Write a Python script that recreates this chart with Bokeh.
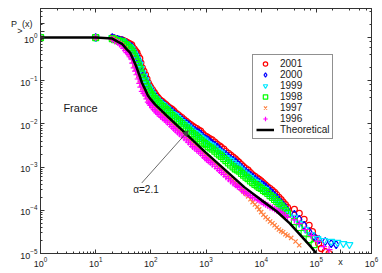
from bokeh.plotting import figure
from bokeh.models import (LogAxis, LogTicker, FixedTicker, CustomJSTickFormatter, Label,
                          Arrow, NormalHead, Legend, LegendItem, Range1d)
from bokeh.embed import file_html
from bokeh.resources import INLINE

# ---------------- data ----------------
X_HEAD = [1, 10]
Y_HEAD = [1.0, 1.0]
X_BODY = [20, 25, 30, 35, 40, 45, 50, 56, 63, 70, 80, 90, 100, 115, 130, 150, 175, 200,
          240, 280, 330, 400, 480, 570, 680, 800, 950, 1100, 1300, 1600, 1900, 2300,
          2800, 3400, 4000, 4800, 5800, 7000, 8500, 10000, 12000, 14500, 17500, 21000,
          25000, 30000]
X_HALF = [22, 27, 32, 37, 42, 47, 53, 59, 66, 75, 85, 95, 107, 122, 140, 162, 187, 220,
          260, 305, 365, 440, 525, 625, 740, 870, 1020, 1200, 1450, 1750, 2100, 2550,
          3100, 3700, 4400, 5300, 6400, 7700, 9200, 11000, 13200, 16000, 19200, 23000,
          27500]

# 2001
y2001 = [1.0, 0.91, 0.89, 0.81, 0.74, 0.68, 0.54, 0.45, 0.33, 0.20, 0.138, 0.089, 0.071,
         0.054, 0.043, 0.035, 0.030, 0.026, 0.022, 0.018, 0.0155, 0.0126, 0.0105, 0.0089,
         0.0078, 0.0068, 0.0054, 0.0048, 0.0043, 0.0034, 0.0029, 0.0023, 0.0019, 0.00155,
         0.00129, 0.00103, 0.00085, 0.00066, 0.00056, 0.00048, 0.00039, 0.00032, 0.00026,
         0.0002, 0.000155, 0.000117]
h2001 = [0.955, 0.90, 0.85, 0.78, 0.71, 0.60, 0.49, 0.385, 0.26, 0.168, 0.111, 0.079,
         0.062, 0.048, 0.039, 0.033, 0.028, 0.0237, 0.020, 0.0168, 0.014, 0.0115, 0.0097,
         0.0083, 0.0072, 0.006, 0.0051, 0.0045, 0.0038, 0.0031, 0.0026, 0.0021, 0.0017,
         0.0014, 0.00115, 0.00093, 0.00075, 0.00061, 0.00052, 0.00043, 0.00035, 0.00029,
         0.00023, 0.000176, 0.000135]
tx2001 = [40000, 49000, 60000, 74000, 85000, 95000, 110000, 123000, 145000, 170000]
ty2001 = [1.05e-4, 8.5e-5, 6.2e-5, 4.5e-5, 3.2e-5, 2.3e-5, 1.7e-5, 1.3e-5, 1.1e-5, 1.0e-5]

# 2000
y2000 = [1.0, 0.91, 0.85, 0.77, 0.66, 0.61, 0.46, 0.38, 0.27, 0.166, 0.117, 0.076, 0.063,
         0.048, 0.039, 0.032, 0.0275, 0.0234, 0.0195, 0.0162, 0.0138, 0.0112, 0.0095,
         0.0076, 0.0066, 0.0058, 0.0046, 0.0042, 0.0035, 0.0029, 0.0023, 0.00195, 0.00155,
         0.00132, 0.0011, 0.00087, 0.00072, 0.00059, 0.00048, 0.00041, 0.00035, 0.00028,
         0.00022, 0.00017, 0.000132, 0.0001]
h2000 = [0.955, 0.88, 0.81, 0.72, 0.64, 0.53, 0.42, 0.32, 0.21, 0.14, 0.094, 0.069, 0.055,
         0.043, 0.035, 0.030, 0.0254, 0.0214, 0.0178, 0.015, 0.0124, 0.0104, 0.0085,
         0.0071, 0.0062, 0.0051, 0.0044, 0.0038, 0.0032, 0.0026, 0.0021, 0.00174, 0.00143,
         0.0012, 0.00098, 0.00079, 0.00065, 0.00053, 0.00044, 0.00038, 0.00031, 0.00025,
         0.000195, 0.00015, 0.000115]
tx2000 = [40000, 49000, 60000, 74000, 91000, 112000, 145000, 186000, 229000]
ty2000 = [8.1e-5, 6.2e-5, 4.5e-5, 3.2e-5, 2.5e-5, 2.1e-5, 1.9e-5, 1.7e-5, 1.6e-5]

# 1999
y1999 = [1.0, 0.85, 0.85, 0.72, 0.63, 0.55, 0.42, 0.32, 0.24, 0.151, 0.105, 0.072, 0.057,
         0.043, 0.036, 0.030, 0.026, 0.022, 0.0174, 0.0155, 0.0126, 0.0102, 0.0085, 0.0068,
         0.0059, 0.0049, 0.0042, 0.0035, 0.0031, 0.00245, 0.0021, 0.00166, 0.00141,
         0.00115, 0.00095, 0.00076, 0.00063, 0.00051, 0.00044, 0.00035, 0.0003, 0.00023,
         0.00019, 0.000145, 0.000112, 0.000085]
h1999 = [0.92, 0.85, 0.785, 0.68, 0.59, 0.48, 0.37, 0.28, 0.19, 0.126, 0.087, 0.065,
         0.0495, 0.039, 0.033, 0.028, 0.0237, 0.0195, 0.0164, 0.014, 0.0114, 0.0093,
         0.0076, 0.0063, 0.0054, 0.0045, 0.0038, 0.0033, 0.00275, 0.00226, 0.00186,
         0.00153, 0.00127, 0.00105, 0.00085, 0.00069, 0.00057, 0.00047, 0.00039, 0.00032,
         0.00026, 0.00021, 0.000166, 0.000127, 0.000098]
tx1999 = [40000, 49000, 63000, 81000, 105000, 138000, 186000, 240000, 309000, 398000]
ty1999 = [6.9e-5, 5.0e-5, 3.6e-5, 2.75e-5, 2.2e-5, 2.0e-5, 1.9e-5, 1.8e-5, 1.7e-5, 1.6e-5]

# 1998
y1998 = [0.95, 0.85, 0.81, 0.69, 0.59, 0.49, 0.37, 0.275, 0.195, 0.12, 0.085, 0.062, 0.049,
         0.039, 0.033, 0.0275, 0.0234, 0.020, 0.0158, 0.0132, 0.0112, 0.0091, 0.0072,
         0.0060, 0.0050, 0.0042, 0.0035, 0.0030, 0.0026, 0.0021, 0.00178, 0.00141, 0.00112,
         0.00091, 0.00081, 0.00065, 0.00054, 0.00044, 0.00037, 0.00032, 0.00027, 0.00022,
         0.000178, 0.000145, 0.000112, 0.000085]
h1998 = [0.90, 0.83, 0.75, 0.64, 0.54, 0.43, 0.32, 0.23, 0.153, 0.101, 0.072, 0.055, 0.044,
         0.036, 0.030, 0.0254, 0.0216, 0.0178, 0.0145, 0.0122, 0.0101, 0.0081, 0.0066,
         0.0055, 0.0046, 0.0038, 0.0033, 0.0028, 0.00234, 0.00193, 0.00158, 0.00126,
         0.00101, 0.00086, 0.00072, 0.00059, 0.00048, 0.0004, 0.00034, 0.00029, 0.000245,
         0.0002, 0.00016, 0.000127, 0.000098]
tx1998 = [40000, 49000, 60000, 74000, 91000]
ty1998 = [5.5e-5, 4.0e-5, 2.95e-5, 2.1e-5, 1.6e-5]

# 1997
y1997 = [0.95, 0.81, 0.69, 0.56, 0.43, 0.35, 0.23, 0.162, 0.102, 0.068, 0.052, 0.038, 0.032,
         0.025, 0.0214, 0.0178, 0.0151, 0.0129, 0.0102, 0.0085, 0.0069, 0.0056, 0.0045,
         0.0035, 0.0030, 0.00245, 0.00195, 0.00166, 0.00138, 0.0011, 0.00089, 0.00071,
         0.00056, 0.00044, 0.00036, 0.00027, 0.00021, 0.000155, 0.00012, 0.000091,
         0.000069, 0.000055, 0.000045, 0.000036, 0.000031, 0.000026]
h1997 = [0.88, 0.75, 0.62, 0.49, 0.39, 0.285, 0.193, 0.129, 0.083, 0.06, 0.045, 0.035,
         0.028, 0.0232, 0.0195, 0.0164, 0.014, 0.0115, 0.0093, 0.0077, 0.0062, 0.005,
         0.004, 0.0032, 0.0027, 0.0022, 0.0018, 0.0015, 0.00123, 0.00099, 0.00079, 0.00063,
         0.0005, 0.0004, 0.00031, 0.00024, 0.00018, 0.000136, 0.000105, 0.000079, 0.000062,
         0.00005, 0.00004, 0.000033, 0.000028]
tx1997 = [35000, 42000, 49000]
ty1997 = [2.3e-5, 1.9e-5, 1.55e-5]

# 1996
y1996 = [0.91, 0.78, 0.65, 0.50, 0.41, 0.32, 0.20, 0.138, 0.087, 0.057, 0.045, 0.032, 0.027,
         0.0214, 0.018, 0.0151, 0.0129, 0.011, 0.0087, 0.0072, 0.0059, 0.0048, 0.0038,
         0.0030, 0.0025, 0.0021, 0.00166, 0.00141, 0.00117, 0.00093, 0.00076, 0.0006,
         0.00048, 0.00039, 0.00034, 0.00027, 0.00024, 0.0002, 0.00018, 0.000158, 0.000138,
         0.00012, 0.000107, 0.000095, 0.000081, 0.000069]
h1996 = [0.84, 0.71, 0.57, 0.45, 0.36, 0.257, 0.168, 0.11, 0.071, 0.051, 0.038, 0.0295,
         0.024, 0.0197, 0.0166, 0.014, 0.0119, 0.0098, 0.0079, 0.0065, 0.0053, 0.0043,
         0.0034, 0.00275, 0.0023, 0.00186, 0.00153, 0.00129, 0.00105, 0.00084, 0.00068,
         0.00054, 0.00043, 0.00036, 0.0003, 0.00025, 0.00022, 0.000193, 0.00017, 0.000148,
         0.000129, 0.000114, 0.000101, 0.000088, 0.000075]
tx1996 = [40000, 49000, 63000, 81000, 105000, 135000, 170000]
ty1996 = [6.0e-5, 4.9e-5, 3.6e-5, 2.6e-5, 1.9e-5, 1.45e-5, 1.23e-5]

theory_x = [1, 10, 20, 25, 30, 36, 42, 48, 54, 62, 69, 78, 89, 100, 120, 180, 380, 980,
            5000, 10200, 19000, 33000, 54000, 81000, 100000]
theory_y = [1, 1, 0.95, 0.81, 0.72, 0.55, 0.45, 0.31, 0.22, 0.135, 0.09, 0.065, 0.045,
            0.037, 0.028, 0.017, 0.0069, 0.0022, 0.00034, 0.00017, 0.000095, 0.00005,
            0.000025, 0.000014, 0.00001]

years = ["2001", "2000", "1999", "1998", "1997", "1996"]

# axis ticks (decades) and where the axis titles sit beside them
X_DECADES = [1, 10, 100, 1000, 10000, 100000, 1000000]
Y_DECADES = [1e-5, 1e-4, 1e-3, 1e-2, 1e-1, 1]
X_TITLE_AT = 274000     # "x" sits in the tick-label row, right of 10^5
Y_TITLE_AT = 2.12       # "P  (x)" above 10^0
Y_SUB_AT = 1.42         # the ">" subscript
# ---------------------------------------------------------------

FONT = "Liberation Sans"
TXT = "#1a1a1a"
FRAME = "#333333"
NB = "\u00a0"

p = figure(width=382, height=273, x_axis_type="log", y_axis_type="log",
           x_range=Range1d(1, 1e6), y_range=Range1d(1e-5, 4.72),
           output_backend="svg", toolbar_location=None,
           min_border_left=40, min_border_right=11, min_border_top=8, min_border_bottom=20)
p.xgrid.visible = False
p.ygrid.visible = False
p.outline_line_color = FRAME
p.background_fill_color = "white"
p.border_fill_color = "white"

x_minor = [m * d for d in X_DECADES[:-1] for m in range(2, 10)]
y_minor = [m * d for d in Y_DECADES for m in range(2, 10)]

# tick order chosen so that no two neighbouring ticks share a rounded exponent
p.xaxis.ticker = FixedTicker(ticks=[X_DECADES[0], X_TITLE_AT] + X_DECADES[1:],
                             minor_ticks=x_minor)
p.yaxis.ticker = FixedTicker(ticks=[Y_DECADES[0], Y_SUB_AT, Y_DECADES[1], Y_TITLE_AT]
                             + Y_DECADES[2:], minor_ticks=y_minor)
p.xaxis.major_label_overrides = {X_TITLE_AT: "x"}
p.yaxis.major_label_overrides = {Y_TITLE_AT: "P" + NB + NB + "(x)" + NB + NB,
                                 Y_SUB_AT: ">" + NB * 6}

for ax in (p.xaxis[0], p.yaxis[0]):
    ax.axis_line_color = FRAME
    ax.major_tick_line_color = FRAME
    ax.minor_tick_line_color = FRAME
    ax.major_tick_in = 4
    ax.major_tick_out = 0
    ax.minor_tick_in = 2
    ax.minor_tick_out = 0
    ax.major_label_text_font = FONT
    ax.major_label_text_font_size = "9px"
    ax.major_label_text_color = TXT
    ax.major_label_standoff = 3

for loc in ("above", "right"):
    ax = LogAxis(ticker=LogTicker(), formatter=CustomJSTickFormatter(code="return ''"),
                 axis_line_color=None, major_tick_line_color=FRAME,
                 minor_tick_line_color=FRAME, major_tick_in=4, major_tick_out=0,
                 minor_tick_in=2, minor_tick_out=0, major_label_standoff=0,
                 major_label_text_font_size="1px")
    p.add_layout(ax, loc)

bodies = {"2001": (y2001, h2001, tx2001, ty2001), "2000": (y2000, h2000, tx2000, ty2000),
          "1999": (y1999, h1999, tx1999, ty1999), "1998": (y1998, h1998, tx1998, ty1998),
          "1997": (y1997, h1997, tx1997, ty1997), "1996": (y1996, h1996, tx1996, ty1996)}
styles = {
    "2001": dict(marker="circle", color="#FF0000", size=6),
    "2000": dict(marker="diamond", color="#0000FF", size=8),
    "1999": dict(marker="inverted_triangle", color="#00E8FF", size=7),
    "1998": dict(marker="square", color="#00FF00", size=6),
    "1997": dict(marker="x", color="#FF8040", size=6),
    "1996": dict(marker="cross", color="#FF00FF", size=7),
}

items = []
for yr in years:
    yb, yh, tx, ty = bodies[yr]
    xs = X_HEAD + X_BODY + X_HALF + tx
    ys = Y_HEAD + yb + yh + ty
    st = styles[yr]
    r = p.scatter(xs, ys, marker=st["marker"], size=st["size"],
                  line_color=st["color"], fill_color=None, line_width=1.2)
    items.append(LegendItem(label=yr, renderers=[r]))

rt = p.line(theory_x, theory_y, line_color="black", line_width=2.5)
items.append(LegendItem(label="Theoretical", renderers=[rt]))

legend = Legend(items=items, location=(212, 114), padding=3, margin=0, spacing=0,
                label_height=11, glyph_height=11, glyph_width=18, label_standoff=6,
                label_text_font=FONT, label_text_font_size="10px", label_text_color=TXT,
                label_text_line_height=1.0,
                border_line_color="#222222", border_line_width=1,
                background_fill_color="white", background_fill_alpha=1.0)
p.add_layout(legend, "center")

p.add_layout(Label(x=2.6, y=0.023, text="France", text_font=FONT, text_font_size="11px",
                   text_color=TXT, text_baseline="middle"))
p.add_layout(Label(x=48, y=3.0e-4, text="α=2.1", text_font=FONT, text_font_size="10px",
                   text_color=TXT, text_baseline="middle"))
p.add_layout(Arrow(x_start=68.5, y_start=4.3e-4, x_end=475, y_end=6.9e-3,
                   line_color="#444444", line_width=0.8,
                   end=NormalHead(size=5, fill_color="#444444", line_color="#444444")))

open("out.html", "w").write(file_html(p, INLINE))
